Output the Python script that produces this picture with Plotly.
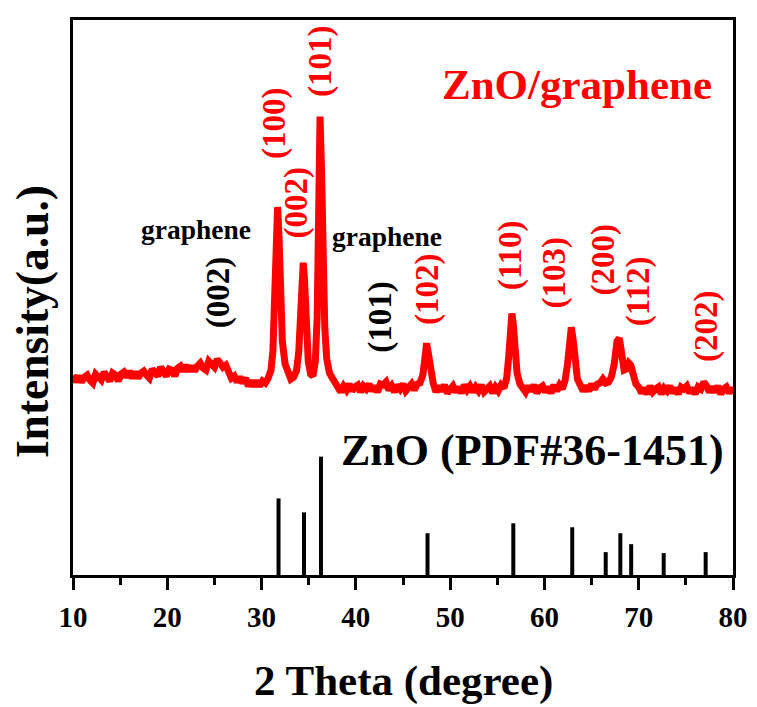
import plotly.graph_objects as go

# ZnO/graphene XRD pattern (2 theta in degrees, intensity in a.u.)
two_theta = [
    10.0, 10.3, 10.6, 10.9, 11.2, 11.5, 11.8, 12.1, 12.4, 12.7, 13.0, 13.3, 13.6, 13.9,
    14.2, 14.5, 14.8, 15.1, 15.4, 15.7, 16.0, 16.3, 16.6, 16.9, 17.2, 17.5, 17.8, 18.1,
    18.4, 18.7, 19.0, 19.3, 19.6, 19.9, 20.2, 20.5, 20.8, 21.1, 21.4, 21.7, 22.0, 22.3,
    22.6, 22.9, 23.2, 23.5, 23.8, 24.1, 24.4, 24.7, 25.0, 25.3, 25.6, 25.9, 26.2, 26.5,
    26.8, 27.1, 27.4, 27.7, 28.0, 28.3, 28.6, 28.9, 29.2, 29.5, 29.8, 30.1, 30.4, 30.7,
    31.0, 31.2, 31.4, 31.55, 31.7, 31.85, 32.0, 32.2, 32.5, 32.8, 33.1, 33.4,
    33.7, 33.95, 34.15, 34.3, 34.42, 34.55, 34.75, 34.95, 35.2, 35.45, 35.7, 35.9,
    36.05, 36.2, 36.35, 36.5, 36.7, 36.9, 37.2, 37.5, 37.8,
    38.1, 38.4, 38.7, 39.0, 39.3, 39.6, 39.9, 40.2, 40.5, 40.8, 41.1, 41.4, 41.7, 42.0,
    42.3, 42.6, 42.9, 43.2, 43.5, 43.8, 44.1, 44.4, 44.7, 45.0, 45.3, 45.6, 45.9, 46.2,
    46.5, 46.8, 47.1, 47.3, 47.5, 47.7, 47.9, 48.2,
    48.5, 48.8, 49.1, 49.4, 49.7, 50.0, 50.3, 50.6, 50.9, 51.2, 51.5, 51.8, 52.1, 52.4,
    52.7, 53.0, 53.3, 53.6, 53.9, 54.2, 54.5, 54.8, 55.1, 55.4, 55.7,
    56.0, 56.2, 56.4, 56.55, 56.7, 56.9, 57.1, 57.4,
    57.7, 58.0, 58.3, 58.6, 58.9, 59.2, 59.5, 59.8, 60.1, 60.4, 60.7, 61.0, 61.3, 61.6,
    61.9, 62.2, 62.45, 62.65, 62.85, 63.05, 63.25, 63.5,
    63.8, 64.1, 64.4, 64.7, 65.0, 65.3, 65.6, 65.9, 66.2, 66.5, 66.8,
    67.1, 67.4, 67.7, 67.95, 68.2, 68.45, 68.7, 68.95, 69.15, 69.4, 69.7,
    70.0, 70.3, 70.6, 70.9, 71.2, 71.5, 71.8, 72.1, 72.4, 72.7, 73.0, 73.3, 73.6, 73.9,
    74.2, 74.5, 74.8, 75.1, 75.4, 75.7, 76.0, 76.3, 76.6, 76.9, 77.2, 77.5, 77.8, 78.1,
    78.4, 78.7, 79.0, 79.3, 79.6, 79.9, 80.0,
]
intensity = [
    201, 194, 200, 194, 199, 201, 196, 193, 202, 199, 196, 204, 198, 195,
    203, 201, 195, 202, 204, 199, 205, 198, 204, 198, 203, 205, 201, 198,
    207, 203, 200, 209, 203, 200, 207, 206, 200, 208, 210, 205, 211, 205,
    210, 205, 210, 213, 208, 206, 215, 211, 209, 217, 211, 209, 211, 205,
    198, 200, 194, 199, 193, 198, 190, 195, 190, 195, 190, 195, 193, 198,
    206, 225, 270, 330, 370, 340, 280, 235, 212, 201, 197, 199,
    205, 225, 270, 305, 314, 298, 250, 215, 202, 200, 215, 260,
    360, 461, 410, 320, 250, 218, 203, 198, 193,
    191, 184, 190, 186, 192, 185, 189, 191, 184, 190, 187, 192, 185, 190,
    184, 192, 191, 194, 186, 190, 184, 191, 187, 192, 185, 189, 192, 186,
    192, 193, 201, 216, 233, 222, 204, 193,
    184, 190, 185, 191, 183, 188, 190, 184, 189, 183, 191, 186, 190, 184,
    189, 185, 191, 184, 188, 190, 183, 189, 185, 191, 188,
    198, 218, 250, 263, 252, 222, 203, 192,
    189, 184, 190, 185, 191, 183, 188, 190, 184, 189, 183, 191, 185, 191,
    187, 196, 212, 238, 249, 236, 212, 197,
    191, 185, 190, 185, 192, 187, 192, 193, 197, 193, 194,
    199, 212, 235, 238, 220, 206, 207, 213, 211, 200, 192,
    189, 183, 188, 182, 190, 184, 187, 189, 182, 188, 185, 190, 183, 188,
    182, 189, 187, 190, 183, 188, 182, 189, 187, 194, 190, 184, 189, 184,
    190, 182, 187, 189, 183, 188, 186,
]

# ZnO reference card PDF#36-1451 (stick positions / heights)
ref_theta = [31.8, 34.5, 36.3, 47.6, 56.7, 62.95, 66.5, 68.05, 69.2, 72.65, 77.1]
ref_height = [77, 63, 119, 42, 52, 48, 23, 42, 31, 22, 23]

# peak labels: (text, 2theta, y, colour)
peak_labels = [
    ("(100)", 31.38, 454, "red"),
    ("(101)", 36.23, 516, "red"),
    ("(002)", 33.6, 374, "red"),
    ("(102)", 47.6, 287, "red"),
    ("(110)", 56.4, 322, "red"),
    ("(103)", 61.1, 304, "red"),
    ("(200)", 66.3, 317, "red"),
    ("(112)", 70.0, 285, "red"),
    ("(202)", 77.2, 250, "red"),
    ("(002)", 25.46, 284, "black"),
    ("(101)", 42.6, 259, "black"),
]
graphene_labels = [("graphene", 23.0, 347), ("graphene", 43.3, 340)]

x_ticks = [10, 20, 30, 40, 50, 60, 70, 80]

FONT = "Liberation Serif"

stick_x, stick_y = [], []
for t, h in zip(ref_theta, ref_height):
    stick_x += [t, t, None]
    stick_y += [0, h, None]

fig = go.Figure()
fig.add_trace(go.Scatter(x=two_theta, y=intensity, mode="lines",
                         line=dict(color="#ff0000", width=7), showlegend=False))
fig.add_trace(go.Scatter(x=stick_x, y=stick_y, mode="lines",
                         line=dict(color="black", width=4), showlegend=False))

ann = []
for txt, x, y, c in peak_labels:
    ann.append(dict(x=x, y=y, xref="x", yref="y", text=txt, textangle=-90,
                    showarrow=False, font=dict(family=FONT, size=33, color=c, weight="bold"),
                    xanchor="center", yanchor="middle"))
for txt, x, y in graphene_labels:
    ann.append(dict(x=x, y=y, xref="x", yref="y", text=txt, showarrow=False,
                    font=dict(family=FONT, size=27.5, color="black", weight="bold"),
                    xanchor="center", yanchor="middle"))
ann.append(dict(x=63.5, y=493, xref="x", yref="y", text="ZnO/graphene", showarrow=False,
                font=dict(family=FONT, size=43, color="#ff0000", weight="bold"),
                xanchor="center", yanchor="middle"))
ann.append(dict(x=58.7, y=125, xref="x", yref="y", text="ZnO (PDF#36-1451)", showarrow=False,
                font=dict(family=FONT, size=44, color="black", weight="bold"),
                xanchor="center", yanchor="middle"))
ann.append(dict(x=0.5, y=-0.191, xref="paper", yref="paper", text="2 Theta (degree)",
                showarrow=False, font=dict(family=FONT, size=43, color="black", weight="bold"),
                xanchor="center", yanchor="middle"))
ann.append(dict(x=-0.061, y=0.457, xref="paper", yref="paper", text="Intensity(a.u.)",
                textangle=-90, showarrow=False,
                font=dict(family=FONT, size=45.5, color="black", weight="bold"),
                xanchor="center", yanchor="middle"))

# page body has an 8px margin, so the figure is 8px smaller than the window
fig.update_layout(
    width=749, height=699,
    margin=dict(l=65, r=21, t=9, b=132),
    paper_bgcolor="white", plot_bgcolor="white",
    annotations=ann,
    xaxis=dict(range=[10, 80], tickmode="array", tickvals=x_ticks,
               ticktext=[str(v) for v in x_ticks],
               showgrid=False, zeroline=False,
               showline=True, linecolor="black", linewidth=3, mirror=True,
               ticks="outside", ticklen=12, tickwidth=3, tickcolor="black",
               minor=dict(dtick=5, tick0=5, ticks="outside", ticklen=7, tickwidth=3,
                          tickcolor="black", showgrid=False),
               ticklabelstandoff=2,
               tickfont=dict(family=FONT, size=29, color="black", weight="bold")),
    yaxis=dict(range=[0, 558], showticklabels=False, ticks="", showgrid=False,
               zeroline=False, showline=True, linecolor="black", linewidth=3, mirror=True),
)

fig.write_html("out.html")
